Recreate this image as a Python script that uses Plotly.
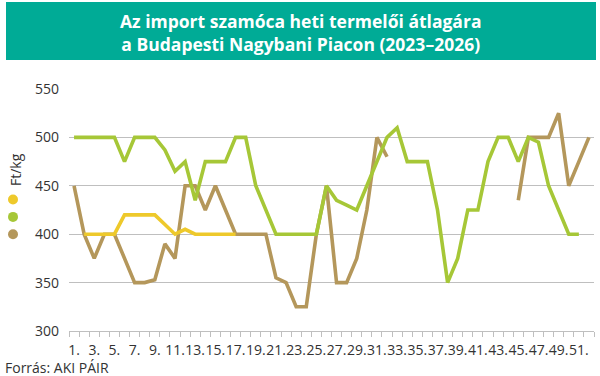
import plotly.graph_objects as go

weeks = list(range(1, 53))
tick_weeks = list(range(1, 53, 2))
tick_labels = [f"{w}." for w in tick_weeks]

# yellow series
s_yellow = [None, 400, 400, 400, 400, 420, 420, 420, 420, 410, 400, 405, 400, 400, 400, 400, 400] + [None] * 35
# green series
s_green = [500, 500, 500, 500, 500, 475, 500, 500, 500, 487, 465, 475, 435, 475, 475, 475,
           500, 500, 450, 425, 400, 400, 400, 400, 400, 450, 435, 430, 425, 450, 475, 500,
           510, 475, 475, 475, 425, 350, 375, 425, 425, 475, 500, 500, 475, 500, 495, 450,
           425, 400, 400, None]
# brown series
s_brown = [450, 400, 375, 400, 400, 375, 350, 350, 353, 390, 375, 450, 450, 425, 450, 425,
           400, 400, 400, 400, 355, 350, 325, 325, 400, 450, 350, 350, 375, 425, 500, 480,
           None, None, None, None, None, None, None, None, None, None, None, None,
           435, 500, 500, 500, 525, 450, 475, 500]

yellow = "#EEC92B"
green = "#A6C737"
brown = "#B4975B"

W, H = 600, 376
L, R, T, B = 69, 594, 89, 331


def px(x):
    return (x - L) / (R - L)


def py(y):
    return (B - y) / (B - T)


fig = go.Figure()
for vals, col in [(s_brown, brown), (s_yellow, yellow), (s_green, green)]:
    fig.add_trace(go.Scatter(x=weeks, y=vals, mode="lines",
                             line=dict(color=col, width=3.6),
                             connectgaps=False, showlegend=False,
                             hoverinfo="skip"))

shapes = [
    dict(type="rect", xref="paper", yref="paper", x0=px(6), x1=px(596), y0=py(2), y1=py(60),
         fillcolor="#00AB96", line=dict(width=0), layer="below"),
]
for i, col in enumerate([yellow, green, brown]):
    cy = 199.5 + 17.4 * i
    shapes.append(dict(type="circle", xref="paper", yref="paper",
                       x0=px(8), x1=px(18), y0=py(cy - 5), y1=py(cy + 5),
                       fillcolor=col, line=dict(width=0)))

annotations = [
    dict(text="<b>Az import szamóca heti termelői átlagára<br>a Budapesti Nagybani Piacon (2023–2026)</b>",
         xref="paper", yref="paper", x=px(300), y=py(32), showarrow=False,
         font=dict(family="Open Sans", size=17.5, color="white"), align="center",
         xanchor="center", yanchor="middle"),
    dict(text="Ft/kg", xref="paper", yref="paper", x=px(15), y=py(170), showarrow=False,
         textangle=-90, font=dict(family="Open Sans", size=14, color="#333333"),
         xanchor="center", yanchor="middle"),
    dict(text="Forrás: AKI PÁIR", xref="paper", yref="paper", x=px(3), y=py(367), showarrow=False,
         font=dict(family="Open Sans", size=14, color="#333333"),
         xanchor="left", yanchor="middle"),
]

fig.update_layout(
    width=W, height=H,
    margin=dict(l=L, r=W - R, t=T, b=H - B),
    plot_bgcolor="white", paper_bgcolor="white",
    shapes=shapes, annotations=annotations,
    xaxis=dict(range=[0.5, 52.5], tickmode="array", tickvals=tick_weeks, ticktext=tick_labels,
               tickangle=0, ticks="", showgrid=False, zeroline=False,
               showline=True, linecolor="#BFBFBF", linewidth=1, ticklabelstandoff=6,
               tickfont=dict(family="Open Sans", size=14, color="#333333"),
               minor=dict(tickmode="array", tickvals=[w - 0.5 for w in weeks] + [52.5],
                          ticks="outside", ticklen=5, tickcolor="#BFBFBF", showgrid=False)),
    yaxis=dict(range=[300, 550], tickvals=[300, 350, 400, 450, 500, 550],
               showgrid=True, gridcolor="#BFBFBF", gridwidth=1, zeroline=False,
               showline=False, ticks="", ticklabelstandoff=9,
               tickfont=dict(family="Open Sans", size=14, color="#333333")),
)

fig.write_html("out.html", config={"displayModeBar": False},
               post_script="document.body.style.margin='0';")
